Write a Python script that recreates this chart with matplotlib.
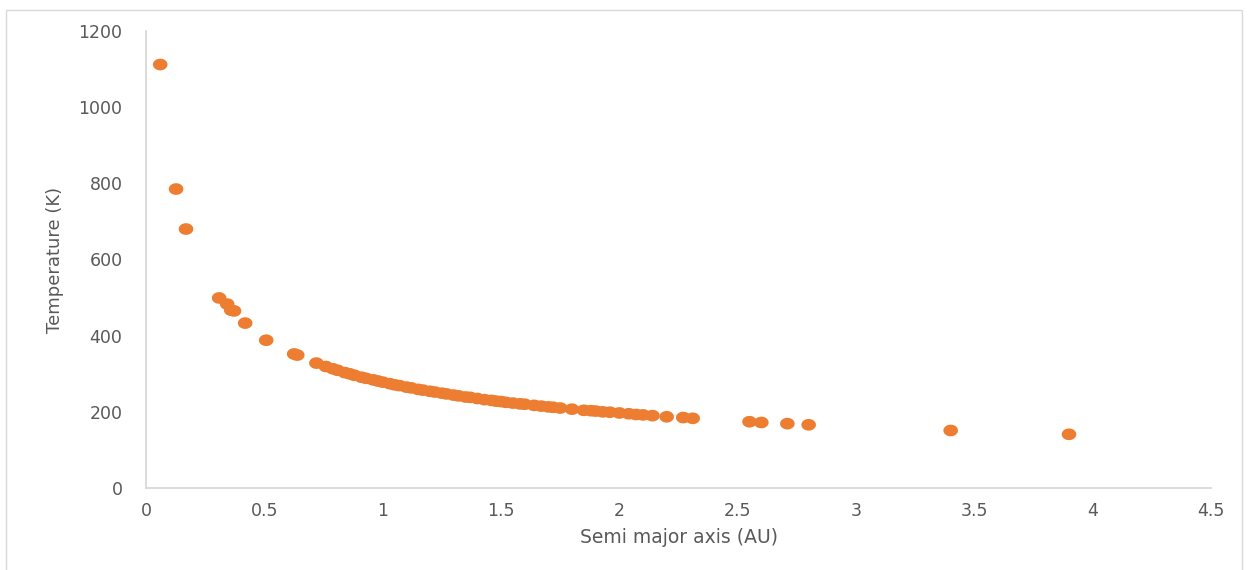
import matplotlib
matplotlib.use("Agg")
import matplotlib.pyplot as plt
import numpy as np
from matplotlib.path import Path
from matplotlib.patches import Rectangle

# Semi major axis (AU)
semi_major_axis = [
    0.06, 0.127, 0.169, 0.309, 0.343, 0.360, 0.372, 0.419, 0.508, 0.626, 0.639,
    0.72, 0.76, 0.79, 0.81, 0.84, 0.86, 0.88, 0.91, 0.93, 0.96, 0.98, 1.00,
    1.03, 1.05, 1.07, 1.10, 1.12, 1.15, 1.17, 1.20, 1.22, 1.25, 1.27, 1.30,
    1.32, 1.35, 1.37, 1.40, 1.43, 1.46, 1.48, 1.50, 1.52, 1.55, 1.58, 1.60,
    1.64, 1.67, 1.70, 1.72, 1.75, 1.80, 1.85, 1.88, 1.90, 1.93, 1.96, 2.00,
    2.04, 2.07, 2.10, 2.14, 2.20, 2.27, 2.31,
    2.55, 2.60, 2.71, 2.80, 3.40, 3.90,
]
# Temperature (K)
temperature = [
    1112, 785, 680, 499, 483, 467, 465, 433, 388, 352, 349,
    328, 319, 313, 309, 303, 300, 296, 291, 288, 284, 281, 278,
    274, 271, 269, 265, 263, 259, 257, 254, 252, 249, 247, 244,
    242, 239, 238, 235, 232, 230, 228, 227, 225, 223, 221, 220,
    217, 215, 213, 212, 210, 207, 204, 203, 202, 200, 199, 197,
    195, 193, 192, 190, 187, 185, 183,
    174, 172, 169, 166, 151, 141,
]
x_ticks = [0, 0.5, 1, 1.5, 2, 2.5, 3, 3.5, 4, 4.5]
x_tick_labels = ["0", "0.5", "1", "1.5", "2", "2.5", "3", "3.5", "4", "4.5"]
y_ticks = [0, 200, 400, 600, 800, 1000, 1200]

W, H = 1249, 570
fig = plt.figure(figsize=(W / 100, H / 100), dpi=100)
fig.patch.set_facecolor("white")

# outer chart border
fig.patches.append(Rectangle((6 / W, -0.02), (1242 - 6) / W, 1 - 10 / H + 0.02,
                             transform=fig.transFigure, fill=False,
                             edgecolor="#d9d9d9", linewidth=1.0))

left, right = 146 / W, 1211 / W
bottom, top = 1 - 488 / H, 1 - 31 / H
ax = fig.add_axes([left, bottom, right - left, top - bottom])

# slightly wide elliptical marker, like the reference
t = np.linspace(0, 2 * np.pi, 60)
ell = Path(np.column_stack([1.25 * np.cos(t), np.sin(t)]), closed=True)

ax.scatter(semi_major_axis, temperature, marker=ell, s=(10.5) ** 2,
           color="#ED7D31", edgecolors="none", zorder=3, clip_on=False)

ax.set_xlim(0, 4.5)
ax.set_ylim(0, 1200)
ax.set_xticks(x_ticks)
ax.set_xticklabels(x_tick_labels)
ax.set_yticks(y_ticks)

for s in ["top", "right"]:
    ax.spines[s].set_visible(False)
for s in ["left", "bottom"]:
    ax.spines[s].set_color("#d9d9d9")
    ax.spines[s].set_linewidth(1.3)

ax.tick_params(axis="both", length=0, labelsize=12.5, labelcolor="#595959")
ax.tick_params(axis="x", pad=10)
ax.tick_params(axis="y", pad=17)

ax.set_xlabel("Semi major axis (AU)", fontsize=13.5, color="#595959", labelpad=6)
ax.set_ylabel("Temperature (K)", fontsize=13, color="#595959", labelpad=10)

fig.savefig("out.png", dpi=100)
